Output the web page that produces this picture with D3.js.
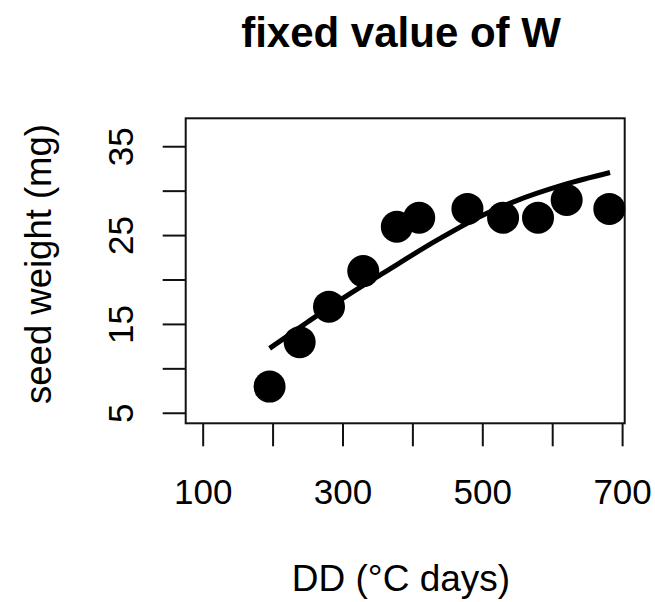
<!DOCTYPE html>
<html>
<head>
<meta charset="utf-8">
<script src="https://cdn.jsdelivr.net/npm/d3@7"></script>
<style>
  body { margin: 0; background: #fff; }
  text { font-family: "Liberation Sans", Arial, sans-serif; fill: #000; }
</style>
</head>
<body>
<div class="canvas"><svg></svg></div>
<script>
// observed seeds
const dd = [195, 238, 280, 329, 377, 409, 478, 529, 579, 620, 681];
const weight = [8, 13, 17, 21, 26, 27, 28, 27, 27, 29, 28];

// fitted curve
const fitDD = [195, 250, 303, 358, 437, 500, 544, 615, 682];
const fitWeight = [12.3, 15.3, 18.1, 20.8, 24.6, 27.3, 28.8, 30.7, 32.1];

const xTicks = [100, 200, 300, 400, 500, 600, 700];
const xLabels = [100, 300, 500, 700];
const yTicks = [5, 10, 15, 20, 25, 30, 35];
const yLabels = [5, 15, 25, 35];

const width = 655, height = 602;
const box = { left: 185.7, right: 624.7, top: 118.3, bottom: 423.3 };

const svg = d3.select('.canvas').select('svg')
    .attr('width', width)
    .attr('height', height);

const x = d3.scaleLinear().domain([75, 703]).range([box.left, box.right]);
const y = d3.scaleLinear().domain([3.87, 38.2]).range([box.bottom, box.top]);

// title
svg.append('text')
    .attr('x', 401)
    .attr('y', 47)
    .attr('text-anchor', 'middle')
    .attr('font-size', 42)
    .attr('font-weight', 'bold')
    .text('fixed value of W');

// plot box
svg.append('rect')
    .attr('x', box.left).attr('y', box.top)
    .attr('width', box.right - box.left)
    .attr('height', box.bottom - box.top)
    .attr('fill', 'none')
    .attr('stroke', '#111')
    .attr('stroke-width', 2);

// x axis
const gx = svg.append('g').attr('transform', `translate(0,${box.bottom})`);
gx.selectAll('line').data(xTicks).enter().append('line')
    .attr('x1', d => x(d)).attr('x2', d => x(d))
    .attr('y1', 0).attr('y2', 23)
    .attr('stroke', '#111').attr('stroke-width', 2);
gx.selectAll('text').data(xLabels).enter().append('text')
    .attr('x', d => x(d))
    .attr('y', 81)
    .attr('text-anchor', 'middle')
    .attr('font-size', 35)
    .text(d => d);

// y axis
const gy = svg.append('g').attr('transform', `translate(${box.left},0)`);
gy.selectAll('line').data(yTicks).enter().append('line')
    .attr('x1', -23).attr('x2', 0)
    .attr('y1', d => y(d)).attr('y2', d => y(d))
    .attr('stroke', '#111').attr('stroke-width', 2);
gy.selectAll('text').data(yLabels).enter().append('text')
    .attr('transform', d => `translate(-52.5,${y(d)}) rotate(-90)`)
    .attr('text-anchor', 'middle')
    .attr('font-size', 35)
    .text(d => d);

// axis titles
svg.append('text')
    .attr('x', 401)
    .attr('y', 591)
    .attr('text-anchor', 'middle')
    .attr('font-size', 37)
    .text('DD (°C days)');

svg.append('text')
    .attr('transform', 'translate(51,264) rotate(-90)')
    .attr('text-anchor', 'middle')
    .attr('font-size', 36.5)
    .text('seed weight (mg)');

// points
svg.append('g').selectAll('circle')
    .data(dd.map((d, i) => [d, weight[i]]))
    .enter().append('circle')
    .attr('cx', d => x(d[0]))
    .attr('cy', d => y(d[1]))
    .attr('r', 16)
    .attr('fill', '#000');

// fitted line
const line = d3.line()
    .x(d => x(d[0]))
    .y(d => y(d[1]))
    .curve(d3.curveMonotoneX);

svg.append('path')
    .datum(fitDD.map((d, i) => [d, fitWeight[i]]))
    .attr('d', line)
    .attr('fill', 'none')
    .attr('stroke', '#000')
    .attr('stroke-width', 5);
</script>
</body>
</html>
